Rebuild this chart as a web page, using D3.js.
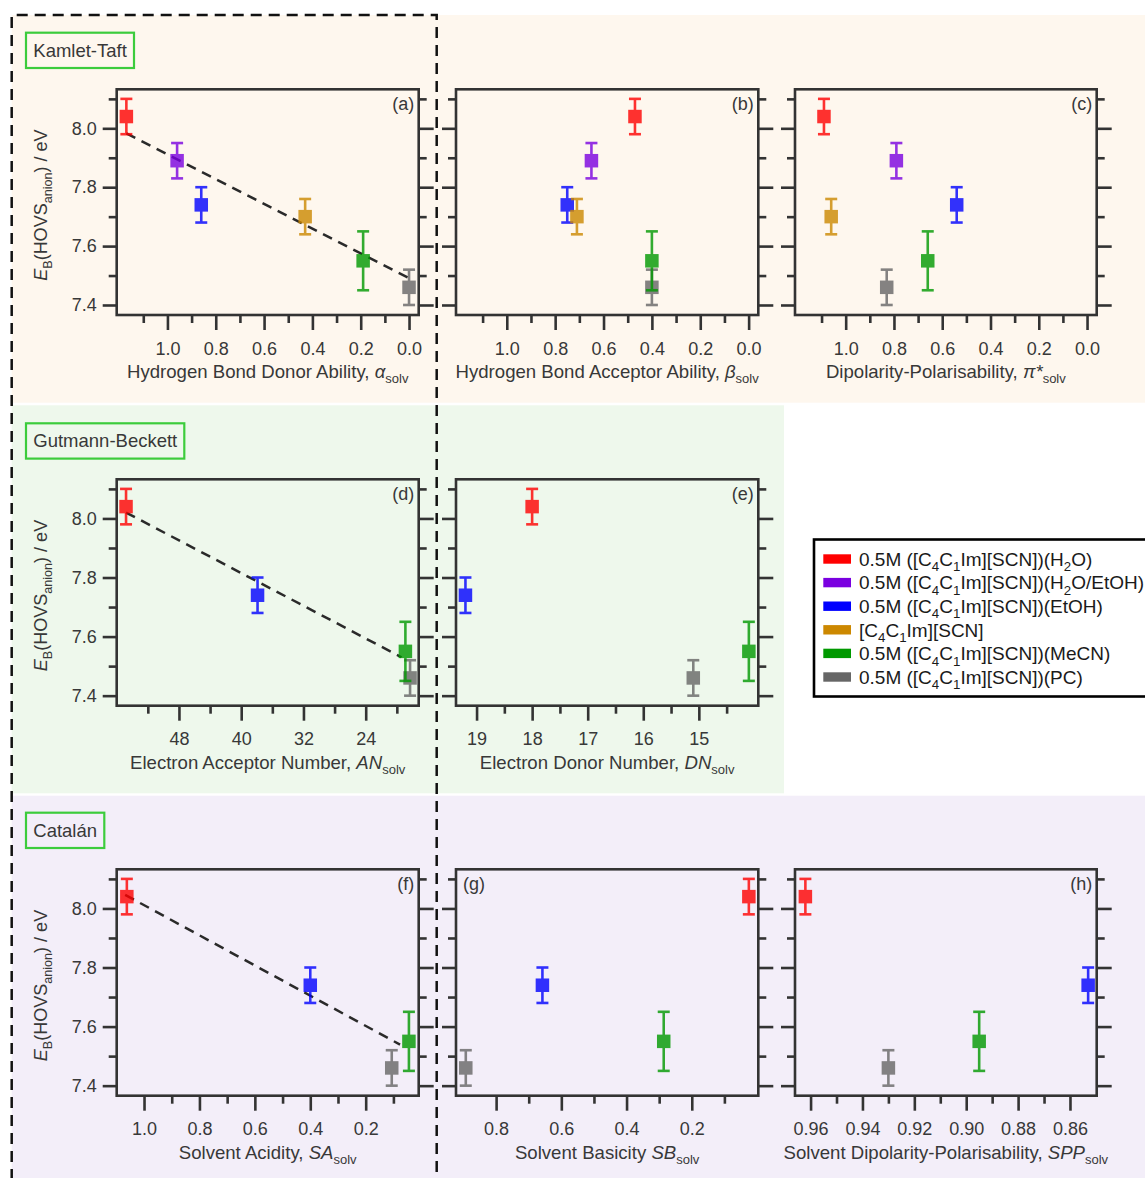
<!DOCTYPE html>
<html>
<head>
<meta charset="utf-8">
<script src="https://cdn.jsdelivr.net/npm/d3@7"></script>
<style>
  body { margin: 0; background: #fff; }
  svg { display: block; }
</style>
</head>
<body>
<svg id="chart" width="1145" height="1178"></svg>
<script>
// ---- Data -----------------------------------------------------------------
// Series (solutions); "_X" marks a one-character subscript.
const seriesNames = [
  "0.5M ([C_4C_1Im][SCN])(H_2O)",
  "0.5M ([C_4C_1Im][SCN])(H_2O/EtOH)",
  "0.5M ([C_4C_1Im][SCN])(EtOH)",
  "[C_4C_1Im][SCN]",
  "0.5M ([C_4C_1Im][SCN])(MeCN)",
  "0.5M ([C_4C_1Im][SCN])(PC)"
];
const seriesColors = ["#ff0000", "#7a00e0", "#0000ff", "#cc8800", "#009900", "#666666"];

// Anion HOVS binding energy (eV) and its uncertainty
const bindingEnergy = [8.04, 7.89, 7.74, 7.70, 7.55, 7.46];
const bindingError  = [0.06, 0.06, 0.06, 0.06, 0.10, 0.06];

// Solvent parameters (null = not available for that solution)
const alphaSolv  = [1.17, 0.96, 0.86, 0.43, 0.19, 0.00];
const betaSolv   = [0.47, 0.65, 0.75, 0.71, 0.40, 0.40];
const piStarSolv = [1.09, 0.79, 0.54, 1.06, 0.66, 0.83];
const anSolv     = [54.8, null, 37.9, null, 18.9, 18.3];
const dnSolv     = [18.0, null, 19.2, null, 14.1, 15.1];
const saSolv     = [1.062, null, 0.400, null, 0.044, 0.106];
const sbSolv     = [0.025, null, 0.658, null, 0.286, 0.893];
const sppSolv    = [0.962, null, 0.853, null, 0.895, 0.930];

// Linear fits (end points: [parameter, energy])
const fitAlpha = [[1.17, 7.983], [0.0, 7.491]];
const fitAN    = [[54.8, 8.020], [19.4, 7.530]];
const fitSA    = [[1.068, 8.046], [0.076, 7.539]];

// Tick values
const yMajorTicks = [7.4, 7.6, 7.8, 8.0];
const yMinorTicks = [7.5, 7.7, 7.9, 8.1];
const ktMajor  = [1.0, 0.8, 0.6, 0.4, 0.2, 0.0];
const ktMinor  = [1.1, 0.9, 0.7, 0.5, 0.3, 0.1];
const anMajor  = [48, 40, 32, 24];
const anMinor  = [52, 44, 36, 28, 20];
const dnMajor  = [19, 18, 17, 16, 15];
const dnMinor  = [18.5, 17.5, 16.5, 15.5, 14.5];
const saMajor  = [1.0, 0.8, 0.6, 0.4, 0.2];
const saMinor  = [0.9, 0.7, 0.5, 0.3, 0.1];
const sbMajor  = [0.8, 0.6, 0.4, 0.2];
const sbMinor  = [0.7, 0.5, 0.3, 0.1];
const sppMajor = [0.96, 0.94, 0.92, 0.90, 0.88, 0.86];
const sppMinor = [0.95, 0.93, 0.91, 0.89, 0.87];

// Scale group labels
const groupLabels = ["Kamlet-Taft", "Gutmann-Beckett", "Catalán"];

// ---- Layout ---------------------------------------------------------------
const FONT = "'Liberation Sans', Arial, Helvetica, sans-serif";
const INK = "#333333";
const TEXT = "#383838";
const TITLE_SIZE = 18.6;
const TICK_SIZE = 18;
const cols = [[116.7, 418.7], [456, 758.3], [795, 1096.7]];
const rows = [[89.3, 315], [479.3, 705.7], [869.3, 1095.7]];
const yDomain = [7.366, 8.1325];
const drawOrder = [0, 1, 2, 3, 5, 4];

const panels = [
  { tag: "(a)", row: 0, col: 0, xs: alphaSolv,  dom: [1.21, -0.04],   major: ktMajor,  minor: ktMinor,  fmt: ".1f", fit: fitAlpha,
    title: [["Hydrogen Bond Donor Ability, "], ["α", "i"], ["solv", "s"]] },
  { tag: "(b)", row: 0, col: 1, xs: betaSolv,   dom: [1.21, -0.04],   major: ktMajor,  minor: ktMinor,  fmt: ".1f",
    title: [["Hydrogen Bond Acceptor Ability, "], ["β", "i"], ["solv", "s"]] },
  { tag: "(c)", row: 0, col: 2, xs: piStarSolv, dom: [1.21, -0.04],   major: ktMajor,  minor: ktMinor,  fmt: ".1f",
    title: [["Dipolarity-Polarisability, "], ["π*", "i"], ["solv", "s"]] },
  { tag: "(d)", row: 1, col: 0, xs: anSolv,     dom: [56.0, 17.19],   major: anMajor,  minor: anMinor,  fmt: "d", fit: fitAN,
    title: [["Electron Acceptor Number, "], ["AN", "i"], ["solv", "s"]] },
  { tag: "(e)", row: 1, col: 1, xs: dnSolv,     dom: [19.37, 13.93],  major: dnMajor,  minor: dnMinor,  fmt: "d",
    title: [["Electron Donor Number, "], ["DN", "i"], ["solv", "s"]] },
  { tag: "(f)", row: 2, col: 0, xs: saSolv,     dom: [1.0986, 0.0087], major: saMajor, minor: saMinor,  fmt: ".1f", fit: fitSA,
    title: [["Solvent Acidity, "], ["SA", "i"], ["solv", "s"]] },
  { tag: "(g)", row: 2, col: 1, xs: sbSolv,     dom: [0.923, -0.004], major: sbMajor,  minor: sbMinor,  fmt: ".1f", tagLeft: true,
    title: [["Solvent Basicity "], ["SB", "i"], ["solv", "s"]] },
  { tag: "(h)", row: 2, col: 2, xs: sppSolv,    dom: [0.966, 0.8497], major: sppMajor, minor: sppMinor, fmt: ".2f",
    title: [["Solvent Dipolarity-Polarisability, "], ["SPP", "i"], ["solv", "s"]] }
];

const svg = d3.select("#chart").attr("font-family", FONT);

// ---- Backgrounds for the three scale groups --------------------------------
svg.append("rect").attr("x", 11.7).attr("y", 15).attr("width", 1145 - 11.7).attr("height", 402.7 - 15).attr("fill", "#fef7ee");
svg.append("rect").attr("x", 11.7).attr("y", 405.3).attr("width", 784 - 11.7).attr("height", 793.3 - 405.3).attr("fill", "#eef8ec");
svg.append("rect").attr("x", 11.7).attr("y", 795.7).attr("width", 1145 - 11.7).attr("height", 1178 - 795.7).attr("fill", "#f3eef9");

// Dashed outline around the left column
svg.append("path")
  .attr("d", "M11.7,1180 L11.7,15 L436.7,15 L436.7,1180")
  .attr("fill", "none").attr("stroke", "#111").attr("stroke-width", 2.5)
  .attr("stroke-dasharray", "11,7");

// Group label boxes
const labelBoxes = [
  { y: 32.7, w: 108, base: 56.5 },
  { y: 423.3, w: 158.3, base: 446.5 },
  { y: 812.7, w: 78.3, base: 836.5 }
];
groupLabels.forEach((name, i) => {
  const b = labelBoxes[i];
  svg.append("rect").attr("x", 26).attr("y", b.y).attr("width", b.w).attr("height", 35.3)
    .attr("fill", "none").attr("stroke", "#3ccc3c").attr("stroke-width", 2.2);
  svg.append("text").attr("x", 33.3).attr("y", b.base).attr("font-size", 18.5).attr("fill", TEXT).text(name);
});

// ---- Helpers ---------------------------------------------------------------
function richText(sel, parts, size) {
  let shifted = false;
  parts.forEach(([t, kind]) => {
    const ts = sel.append("tspan").text(t);
    if (kind === "i") ts.attr("font-style", "italic");
    if (kind === "s") {
      ts.attr("font-size", size * 0.7).attr("dy", size * 0.28);
      shifted = true;
    } else if (shifted) {
      ts.attr("dy", -size * 0.28);
      shifted = false;
    }
  });
}

function subscriptText(sel, str, size) {
  // "_X" => X as subscript
  const parts = [];
  for (let i = 0; i < str.length; i++) {
    if (str[i] === "_") { parts.push([str[i + 1], "s"]); i++; }
    else {
      const last = parts[parts.length - 1];
      if (last && last[1] === undefined) last[0] += str[i];
      else parts.push([str[i], undefined]);
    }
  }
  richText(sel, parts, size);
}

function styleAxis(g, width) {
  g.attr("font-family", FONT).attr("font-size", TICK_SIZE);
  g.select(".domain").remove();
  g.selectAll(".tick line").attr("stroke", INK).attr("stroke-width", width);
  g.selectAll(".tick text").attr("fill", TEXT);
}

// ---- Panels ----------------------------------------------------------------
panels.forEach(p => {
  const [x0, x1] = cols[p.col];
  const [y0, y1] = rows[p.row];
  const x = d3.scaleLinear().domain(p.dom).range([x0, x1]);
  const y = d3.scaleLinear().domain(yDomain).range([y1, y0]);
  const g = svg.append("g");

  // bottom axis: major (labelled) and minor ticks
  g.append("g").attr("transform", `translate(0,${y1})`)
    .call(d3.axisBottom(x).tickValues(p.major).tickSize(15).tickPadding(12)
      .tickFormat(d3.format(p.fmt)).tickSizeOuter(0))
    .call(s => styleAxis(s, 2.6));
  g.append("g").attr("transform", `translate(0,${y1})`)
    .call(d3.axisBottom(x).tickValues(p.minor).tickSize(8).tickFormat("").tickSizeOuter(0))
    .call(s => styleAxis(s, 2.6));

  // left axis (labels only on the first column)
  const left = d3.axisLeft(y).tickValues(yMajorTicks).tickSize(14).tickPadding(6)
    .tickFormat(p.col === 0 ? d3.format(".1f") : "").tickSizeOuter(0);
  g.append("g").attr("transform", `translate(${x0},0)`).call(left).call(s => styleAxis(s, 2.6));
  g.append("g").attr("transform", `translate(${x0},0)`)
    .call(d3.axisLeft(y).tickValues(yMinorTicks).tickSize(8).tickFormat("").tickSizeOuter(0))
    .call(s => styleAxis(s, 2.6));

  // right axis (mirror ticks)
  g.append("g").attr("transform", `translate(${x1},0)`)
    .call(d3.axisRight(y).tickValues(yMajorTicks).tickSize(15).tickFormat("").tickSizeOuter(0))
    .call(s => styleAxis(s, 2.6));
  g.append("g").attr("transform", `translate(${x1},0)`)
    .call(d3.axisRight(y).tickValues(yMinorTicks).tickSize(8).tickFormat("").tickSizeOuter(0))
    .call(s => styleAxis(s, 2.6));

  // frame
  g.append("rect").attr("x", x0).attr("y", y0).attr("width", x1 - x0).attr("height", y1 - y0)
    .attr("fill", "none").attr("stroke", INK).attr("stroke-width", 2.6);

  // x-axis title
  const xt = g.append("text").attr("x", (x0 + x1) / 2).attr("y", y1 + 63)
    .attr("text-anchor", "middle").attr("font-size", TITLE_SIZE).attr("fill", TEXT);
  richText(xt, p.title, TITLE_SIZE);

  // y-axis title (first column)
  if (p.col === 0) {
    const yt = g.append("text")
      .attr("transform", `translate(47,${(y0 + y1) / 2 + 3}) rotate(-90)`)
      .attr("text-anchor", "middle").attr("font-size", 18).attr("fill", TEXT);
    richText(yt, [["E", "i"], ["B", "s"], ["(HOVS"], ["anion", "s"], [") / eV"]], 18);
  }

  // panel tag
  g.append("text")
    .attr("x", p.tagLeft ? x0 + 7 : x1 - 4.5).attr("y", y0 + 21)
    .attr("text-anchor", p.tagLeft ? "start" : "end")
    .attr("font-size", 18).attr("fill", TEXT).text(p.tag);

  // linear fit
  if (p.fit) {
    g.append("line")
      .attr("x1", x(p.fit[0][0])).attr("y1", y(p.fit[0][1]))
      .attr("x2", x(p.fit[1][0])).attr("y2", y(p.fit[1][1]))
      .attr("stroke", "#2a2a2a").attr("stroke-width", 2.5).attr("stroke-dasharray", "10,7");
  }

  // points with error bars
  drawOrder.forEach(i => {
    if (p.xs[i] == null) return;
    const cx = x(p.xs[i]);
    const yTop = y(bindingEnergy[i] + bindingError[i]);
    const yBot = y(bindingEnergy[i] - bindingError[i]);
    const pt = g.append("g").attr("opacity", 0.8).attr("stroke", seriesColors[i]).attr("stroke-width", 2.6);
    pt.append("line").attr("x1", cx).attr("x2", cx).attr("y1", yTop).attr("y2", yBot);
    pt.append("line").attr("x1", cx - 6).attr("x2", cx + 6).attr("y1", yTop).attr("y2", yTop);
    pt.append("line").attr("x1", cx - 6).attr("x2", cx + 6).attr("y1", yBot).attr("y2", yBot);
    const s = 13.5;
    pt.append("rect").attr("x", cx - s / 2).attr("y", y(bindingEnergy[i]) - s / 2)
      .attr("width", s).attr("height", s).attr("fill", seriesColors[i]).attr("stroke", "none");
  });
});

// ---- Legend ----------------------------------------------------------------
const legend = svg.append("g");
legend.append("rect").attr("x", 814).attr("y", 539.5).attr("width", 340).attr("height", 157)
  .attr("fill", "#fff").attr("stroke", "#000").attr("stroke-width", 2.6);
seriesNames.forEach((name, i) => {
  const cy = 559 + i * 23.6;
  legend.append("rect").attr("x", 823.3).attr("y", cy - 4.7).attr("width", 27.7).attr("height", 9.4)
    .attr("fill", seriesColors[i]);
  const t = legend.append("text").attr("x", 859).attr("y", cy + 6.8).attr("font-size", 19).attr("fill", "#1a1a1a");
  subscriptText(t, name, 19);
});
</script>
</body>
</html>
